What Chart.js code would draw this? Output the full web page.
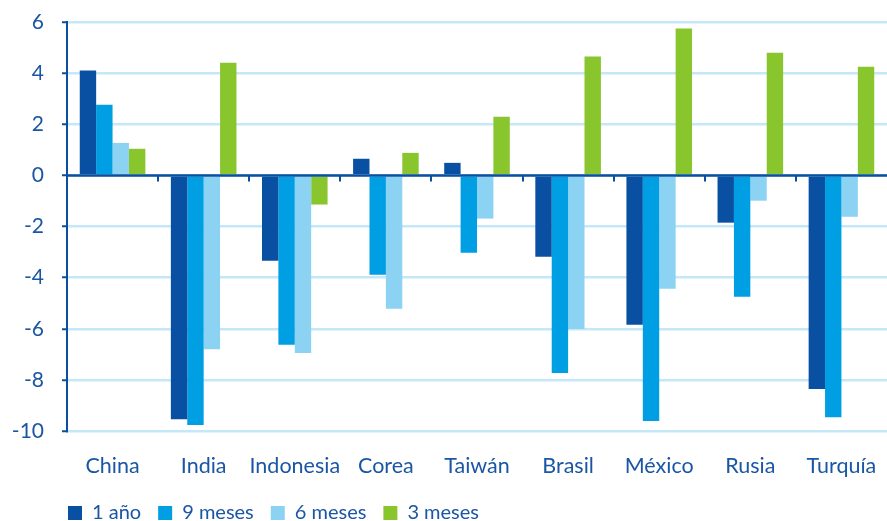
<!DOCTYPE html>
<html>
<head>
<meta charset="utf-8">
<script src="https://cdn.jsdelivr.net/npm/chart.js@4/dist/chart.umd.min.js"></script>
<style>
  html, body { margin: 0; padding: 0; background: #fff; }
  #wrap { width: 887px; height: 521px; }
</style>
</head>
<body>
<div id="wrap"><canvas id="chart"></canvas></div>
<script>
const countries = ["China", "India", "Indonesia", "Corea", "Taiwán", "Brasil", "México", "Rusia", "Turquía"];
const oneYear   = [4.10, -9.54, -3.34, 0.65, 0.49, -3.18, -5.84, -1.85, -8.36];
const nineMonth = [2.76, -9.77, -6.63, -3.89, -3.03, -7.73, -9.61, -4.75, -9.46];
const sixMonth  = [1.27, -6.80, -6.95, -5.22, -1.69, -6.01, -4.44, -0.99, -1.62];
const threeMonth = [1.04, 4.41, -1.14, 0.88, 2.29, 4.65, 5.75, 4.80, 4.25];
const yTicks = [6, 4, 2, 0, -2, -4, -6, -8, -10];

const BLUE_TEXT = "#1A56A4";
const AXIS = "#0B4FA0";
const GRID = "#C4E8F8";
const FONT = "Lato, 'Noto Sans', sans-serif";

// little marks under the zero line between categories, zero line on top
const catMarks = {
  id: "catMarks",
  afterLayout(chart) {
    // legend sits under the plot, lined up with the y axis
    const lg = chart.legend;
    lg.left += 51;
    lg.right += 51;
    lg.top += 12;
    lg.bottom += 12;
    // let the category labels hang below the axis box without being clipped
    chart.scales.x.bottom += 24;
  },
  afterDatasetsDraw(chart) {
    const x = chart.scales.x, y = chart.scales.y;
    const y0 = y.getPixelForValue(0);
    const ctx = chart.ctx;
    ctx.save();
    ctx.strokeStyle = AXIS;
    ctx.lineWidth = 2;
    for (let i = 1; i < countries.length; i++) {
      const px = Math.round((x.getPixelForTick(i - 1) + x.getPixelForTick(i)) / 2);
      ctx.beginPath();
      ctx.moveTo(px, y0);
      ctx.lineTo(px, y0 + 6);
      ctx.stroke();
    }
    ctx.lineWidth = 2.5;
    ctx.beginPath();
    ctx.moveTo(chart.chartArea.left, y0);
    ctx.lineTo(chart.chartArea.right, y0);
    ctx.stroke();
    ctx.restore();
  }
};

new Chart(document.getElementById("chart"), {
  type: "bar",
  data: {
    labels: countries,
    datasets: [
      { label: "1 año", data: oneYear, backgroundColor: "#0A50A2" },
      { label: "9 meses", data: nineMonth, backgroundColor: "#009FE3" },
      { label: "6 meses", data: sixMonth, backgroundColor: "#8BD2F3" },
      { label: "3 meses", data: threeMonth, backgroundColor: "#89C62E" }
    ]
  },
  options: {
    responsive: true,
    maintainAspectRatio: false,
    animation: false,
    layout: { padding: { top: 22, left: 0, right: 0, bottom: 0 } },
    datasets: { bar: { categoryPercentage: 0.72, barPercentage: 1.0 } },
    plugins: {
      tooltip: { enabled: false },
      legend: {
        position: "bottom",
        align: "start",
        labels: {
          boxWidth: 14,
          boxHeight: 14,
          padding: 17,
          color: BLUE_TEXT,
          font: { family: FONT, size: 20 }
        }
      }
    },
    scales: {
      x: {
        grid: { display: false, drawTicks: false },
        border: { display: false },
        ticks: {
          color: BLUE_TEXT,
          padding: 22,
          maxRotation: 0,
          minRotation: 0,
          autoSkip: false,
          font: { family: FONT, size: 21.5 }
        },
        afterFit(scale) {
          scale.height = 43;
          scale.paddingLeft = 0;
          scale.paddingRight = 0;
        }
      },
      y: {
        min: -10,
        max: 6,
        afterBuildTicks(scale) { scale.ticks = yTicks.map(v => ({ value: v })); },
        grid: {
          color: GRID,
          lineWidth: 2.5,
          tickColor: AXIS,
          tickLength: 5,
          tickWidth: 2
        },
        border: { display: true, color: AXIS, width: 2 },
        ticks: {
          color: BLUE_TEXT,
          padding: 18,
          font: { family: FONT, size: 21 }
        },
        afterFit(scale) {
          scale.width = 67;
          scale.paddingTop = 0;
          scale.paddingBottom = 0;
        }
      }
    }
  },
  plugins: [catMarks]
});
</script>
</body>
</html>
